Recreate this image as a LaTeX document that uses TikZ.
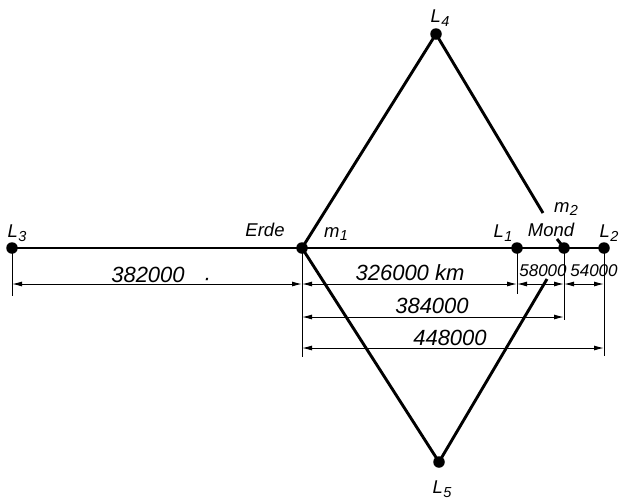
\documentclass[tikz,border=0pt]{standalone}
\usepackage{fontspec}
\setmainfont{Liberation Sans}
\usetikzlibrary{arrows.meta}
\newcommand{\lbsub}[2]{\textit{#1}\kern0.5pt\raisebox{-0.35ex}{\fontsize{14.5}{14.5}\selectfont\itshape #2}}
\begin{document}
\begin{tikzpicture}[x=1pt,y=-1pt,
  ptdot/.style={circle,fill=black,inner sep=0pt,minimum size=11.5pt},
  mainln/.style={line width=2.9pt},
  dimln/.style={line width=1pt,{Latex[length=10pt,width=5pt]}-{Latex[length=10pt,width=5pt]}},
  extln/.style={line width=0.8pt},
  nmlbl/.style={font=\fontsize{18.5}{18.5}\selectfont\itshape, inner sep=0pt},
  numlbl/.style={font=\fontsize{22}{22}\selectfont\itshape, inner sep=0pt},
  snumlbl/.style={font=\fontsize{17}{17}\selectfont\itshape, inner sep=0pt}]
\useasboundingbox (0,0) rectangle (620,499);
% points
\node[ptdot] (L3) at (12,248) {};
\node[ptdot] (E)  at (302,248) {};
\node[ptdot] (L1) at (517,248) {};
\node[ptdot] (M)  at (564,248) {};
\node[ptdot] (L2) at (604,248) {};
\node[ptdot] (L4) at (436,34) {};
\node[ptdot] (L5) at (439,462) {};
\coordinate (c4) at (543,213);
\coordinate (c5) at (547,279);
\coordinate (tk) at (557,239);
\coordinate (r1) at (0,284);
\coordinate (r2) at (0,317);
\coordinate (r3) at (0,348);
\coordinate (e3) at (12,296);
\coordinate (eE) at (302,357);
\coordinate (e1) at (517,294);
\coordinate (eM) at (564,320);
\coordinate (e2) at (604,356);
% main lines
\draw[mainln] (L3.center) -- (L2.center);
\draw[mainln] (E.center) -- (L4.center) -- (c4);
\draw[mainln] (E.center) -- (L5.center) -- (c5);
\draw[mainln] (tk) -- (M.center);
% extension lines
\draw[extln] (L3.center) -- (e3);
\draw[extln] (E.center) -- (eE);
\draw[extln] (L1.center) -- (e1);
\draw[extln] (M.center) -- (eM);
\draw[extln] (L2.center) -- (e2);
% dimension lines
\draw[dimln] (L3 |- r1) -- (E |- r1);
\draw[dimln] (E |- r1) -- (L1 |- r1);
\draw[dimln] (L1 |- r1) -- (M |- r1);
\draw[dimln] (M |- r1) -- (L2 |- r1);
\draw[dimln] (E |- r2) -- (M |- r2);
\draw[dimln] (E |- r3) -- (L2 |- r3);
% numbers
\node[numlbl] (n1) at (148,275) {382000};
\node[numlbl] (nd) at (207,282) {·};
\node[numlbl] (n2) at (410,273) {326000 km};
\node[snumlbl] (n3) at (543,271) {58000};
\node[snumlbl] (n4) at (594,271) {54000};
\node[numlbl] (n5) at (432,306) {384000};
\node[numlbl] (n6) at (450,338) {448000};
% names
\node[nmlbl] (tE) at (265,230) {Erde};
\node[nmlbl] (tL3) at (17,233) {\lbsub{L}{3}};
\node[nmlbl] (tm1) at (336,234) {\lbsub{m}{1}};
\node[nmlbl] (tL1) at (503,233) {\lbsub{L}{1}};
\node[nmlbl] (tM) at (551,230) {Mond};
\node[nmlbl] (tm2) at (566,209) {\lbsub{m}{2}};
\node[nmlbl] (tL2) at (609,233) {\lbsub{L}{2}};
\node[nmlbl] (tL4) at (440,18) {\lbsub{L}{4}};
\node[nmlbl] (tL5) at (442,489) {\lbsub{L}{5}};
\end{tikzpicture}
\end{document}
